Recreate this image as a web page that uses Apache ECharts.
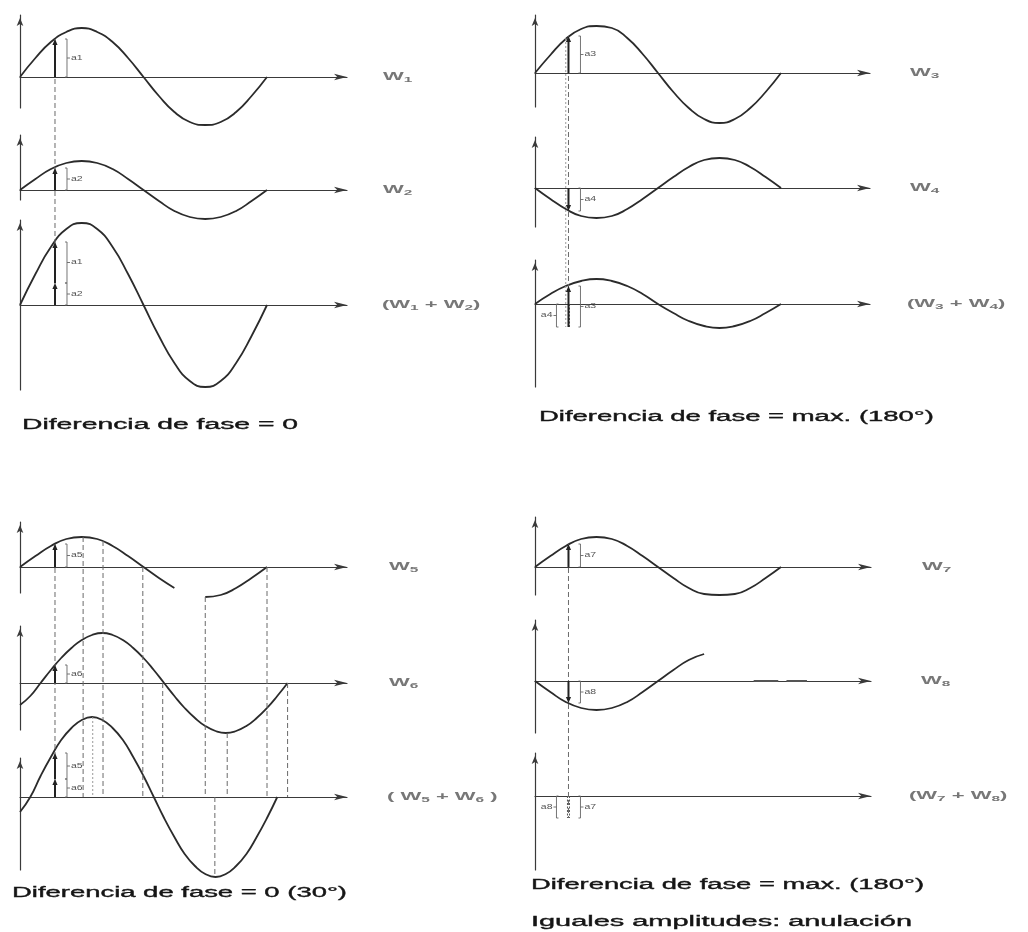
<!DOCTYPE html>
<html><head><meta charset="utf-8">
<script src="https://cdn.jsdelivr.net/npm/echarts@6/dist/echarts.min.js"></script>
<style>html,body{margin:0;padding:0;background:#fff}#c{width:1028px;height:932px}</style>
</head><body><div id="c"></div>
<script>
// ---------- DATA (phase angle in degrees, amplitude values) ----------
const thetaQ = [0,22.5,45,67.5,90,112.5,135,157.5,180,202.5,225,247.5,270,292.5,315,337.5,360];
const w1  = [0,19,35,45,49,45,35,19,0,-19,-35,-45,-48,-45,-35,-19,0];
const w2  = [0,11,21,27,29,27,21,11,0,-11,-21,-27,-29,-27,-21,-11,0];
const w12 = [0,31,58,76,82,76,58,31,0,-31,-58,-76,-82,-76,-58,-31,0];
const w3  = [0,18,34,44,47,45,35,19,0,-19,-35,-46,-50,-46,-35,-19,0];
const w4  = [0,-11,-21,-28,-30,-28,-21,-11,0,11,21,28,30,28,21,11,0];
const w34 = [0,10,18,23,25,23,18,10,0,-9,-17,-22,-24,-22,-17,-9,0];
const thetaW5a = [0,22.5,45,67.5,90,112.5,135,157.5,180,202.5,225];
const w5a = [0,11,21,28,30,28,21,11,0,-11,-21];
const thetaW5b = [270,292.5,315,337.5,360];
const w5b = [-30,-28,-21,-11,0];
const thetaW6 = [0,15,30,45,60,75,90,105,120,135,150,165,180,195,210,225,240,255,270,285,300,315,330,345,360,375,390];
const w6  = [-22,-13,0,13,25,35,43,48,50,48,43,35,25,13,0,-13,-25,-35,-43,-48,-50,-48,-43,-35,-25,-13,0];
const thetaW56 = [0,15,30,45,60,75,90,105,120,135,150,165,180,195,210,225,240,255,270,285,300,315,330,345,360,375];
const w56 = [-15,0,21,40,57,69,77,80,77,69,57,40,21,0,-21,-40,-57,-69,-77,-80,-77,-69,-57,-40,-21,0];
const w7  = [0,11,21,28,30,28,21,11,0,-11,-21,-27,-28,-27,-21,-11,0];
const thetaW8 = [0,22.5,45,67.5,90,112.5,135,157.5,180,202.5,225,247.5];
const w8  = [0,-11,-21,-27,-29,-27,-21,-11,0,11,21,27];
const thetaW8res = [320,356,null,368,398];
const w8res = [0,0,null,0,0];

const waveLabels = [
  ['W{s|1}','W{s|2}','(W{s|1} + W{s|2})'],
  ['W{s|3}','W{s|4}','(W{s|3} + W{s|4})'],
  ['W{s|5}','W{s|6}','( W{s|5} + W{s|6} )'],
  ['W{s|7}','W{s|8}','(W{s|7} + W{s|8})']
];
const captions = [
  'Diferencia de fase = 0',
  'Diferencia de fase = max. (180°)',
  'Diferencia de fase = 0 (30°)',
  'Diferencia de fase = max. (180°)',
  'Iguales amplitudes: anulación'
];

// dashed guide lines: panel, angle, from (row,value) to (row,value)
const guides = [
  {p:0,t:51,r1:0,v1:38,r2:2,v2:0},
  {p:1,t:45,r1:0,v1:35,r2:2,v2:-23,dot:true},
  {p:1,t:49,r1:0,v1:37,r2:2,v2:-23},
  {p:2,t:51,r1:0,v1:23,r2:2,v2:0},
  {p:2,t:92,r1:0,v1:30,r2:2,v2:0},
  {p:2,t:106,r1:2,v1:80,r2:2,v2:0,dot:true},
  {p:2,t:121,r1:0,v1:26,r2:2,v2:0},
  {p:2,t:179,r1:0,v1:0,r2:2,v2:0},
  {p:2,t:208,r1:1,v1:0,r2:2,v2:0},
  {p:2,t:270,r1:0,v1:-30,r2:2,v2:0},
  {p:2,t:284,r1:2,v1:0,r2:2,v2:-80},
  {p:2,t:302,r1:1,v1:-50,r2:2,v2:0},
  {p:2,t:360,r1:0,v1:0,r2:2,v2:0},
  {p:2,t:390,r1:1,v1:0,r2:2,v2:0},
  {p:3,t:49,r1:0,v1:23,r2:2,v2:-22}
];
// amplitude arrows / brackets
const annotations = [
  {p:0,t:51,rows:[[{f:0,to:38,l:'a1'}],[{f:0,to:22,l:'a2'}],[{f:0,to:22,l:'a2'},{f:22,to:63,l:'a1'}]]},
  {p:1,t:49,rows:[[{f:0,to:37,l:'a3'}],[{f:0,to:-23,l:'a4'}],[{f:0,to:-23,l:'a4',side:-1,arrow:false},{f:-23,to:18,l:'a3'}]]},
  {p:2,t:51,rows:[[{f:0,to:23,l:'a5'}],[{f:0,to:18,l:'a6'}],[{f:0,to:18,l:'a6'},{f:18,to:44,l:'a5'}]]},
  {p:3,t:49,rows:[[{f:0,to:23,l:'a7'}],[{f:0,to:-22,l:'a8'}],[{f:0,to:-22,l:'a8',side:-1,arrow:false},{f:0,to:-22,l:'a7',arrow:false}]]}
];

// ---------- LAYOUT ----------
const layout = [
  {ax:20,  tip:353, end:267, lx:[383,383,382], rows:[[15,77,108],[135,190,200],[220,305,390]]},
  {ax:535, tip:876, end:781, lx:[910,910,907], rows:[[15,73,107],[137,188,227],[260,304,387]]},
  {ax:20,  tip:353, end:267, lx:[389,389,387], rows:[[522,567,593],[626,683,730],[758,797,870]]},
  {ax:535, tip:877, end:781, lx:[922,921,909], rows:[[517,567,595],[620,681,733],[753,796,870]]}
];
const captionPos = [[22,425,276],[539,417,395],[12,893,335],[531,885,393],[531,922,381]];

const zip = (t,v) => t.map((x,i)=> x===null ? [null,null] : [x, v[i]]);
const curves = [
  [zip(thetaQ,w1)], [zip(thetaQ,w2)], [zip(thetaQ,w12)],
  [zip(thetaQ,w3)], [zip(thetaQ,w4)], [zip(thetaQ,w34)],
  [zip(thetaW5a,w5a), zip(thetaW5b,w5b)], [zip(thetaW6,w6)], [zip(thetaW56,w56)],
  [zip(thetaQ,w7)], [zip(thetaW8,w8)], []
];

const INK = '#2b2b2b';
const grid=[], xAxis=[], yAxis=[], series=[];
layout.forEach((P,p)=>{
  const pxPerDeg = (P.end-P.ax)/360;
  const width = P.tip - P.ax - 6;
  P.rows.forEach((R,r)=>{
    const g = p*3+r;
    grid.push({left:P.ax, top:R[0], width:width, height:R[2]-R[0], outerBoundsMode:'none', containLabel:false});
    xAxis.push({gridIndex:g, type:'value', min:0, max:width/pxPerDeg,
      axisLine:{show:true,onZero:true,symbol:['none','arrow'],symbolSize:[5,13],lineStyle:{color:'#3a3a3a',width:1.2}},
      axisTick:{show:false}, axisLabel:{show:false}, splitLine:{show:false}});
    yAxis.push({gridIndex:g, type:'value', min:-(R[2]-R[1]), max:(R[1]-R[0]),
      axisLine:{show:true,onZero:true,symbol:['none','arrow'],symbolSize:[5,8],symbolOffset:[0,-3],lineStyle:{color:'#3a3a3a',width:1.2}},
      axisTick:{show:false}, axisLabel:{show:false}, splitLine:{show:false}});
    curves[g].forEach(d=>{
      series.push({type:'line', xAxisIndex:g, yAxisIndex:g, data:d, smooth:true, symbol:'none',
        clip:false, silent:true, connectNulls:false, lineStyle:{color:INK,width:1.8}});
    });
  });
});
// residual faint dash on W8 baseline
series.push({type:'line', xAxisIndex:10, yAxisIndex:10, data:zip(thetaW8res,w8res), symbol:'none',
  clip:false, silent:true, connectNulls:false, lineStyle:{color:'#555',width:1.8}});

const chart = echarts.init(document.getElementById('c'), null, {renderer:'canvas'});
chart.setOption({animation:false, backgroundColor:'#fff', grid, xAxis, yAxis, series});

// ---------- annotations through the axes' scales ----------
const px = (g,t,v) => chart.convertToPixel({gridIndex:g}, [t,v]);
const els = [];
const cv = document.createElement('canvas').getContext('2d');
const FONT = '"Liberation Sans", Arial, sans-serif';

guides.forEach(G=>{
  const a = px(G.p*3+G.r1, G.t, G.v1), b = px(G.p*3+G.r2, G.t, G.v2);
  els.push({type:'line', z:5, silent:true, shape:{x1:a[0],y1:a[1],x2:b[0],y2:b[1]},
    style:{stroke: G.dot ? '#9a9a9a' : '#6a6a6a', lineWidth: 1, lineDash: G.dot ? [2,2] : [5,3]}});
});

annotations.forEach(A=>{
  A.rows.forEach((segs,r)=>{
    const g = A.p*3+r;
    segs.forEach(S=>{
      const p1 = px(g,A.t,S.f), p2 = px(g,A.t,S.to);
      const x = p1[0], y1 = p1[1], y2 = p2[1];
      const side = S.side || 1;
      if (S.arrow === false) {
        els.push({type:'line', z:6, silent:true, shape:{x1:x-side*1,y1:y1,x2:x-side*1,y2:y2}, style:{stroke:'#555',lineWidth:1,lineDash:[2,1.5]}});
      } else {
        const dir = y2 < y1 ? 1 : -1;
        els.push({type:'line', z:6, silent:true, shape:{x1:x,y1:y1,x2:x,y2:y2+dir*3}, style:{stroke:'#222',lineWidth:2}});
        els.push({type:'polygon', z:6, silent:true, shape:{points:[[x-2.6,y2+dir*6],[x+2.6,y2+dir*6],[x,y2]]}, style:{fill:'#222'}});
      }
      const bx = x + side*12;
      els.push({type:'polyline', z:6, silent:true,
        shape:{points:[[bx-side*2,y1],[bx,y1],[bx,y2],[bx-side*2,y2]]}, style:{stroke:'#666',lineWidth:0.9,fill:null}});
      const ym = (y1+y2)/2;
      els.push({type:'line', z:6, silent:true, shape:{x1:bx,y1:ym,x2:bx+side*3,y2:ym}, style:{stroke:'#666',lineWidth:0.9}});
      els.push({type:'text', z:7, silent:true, x: bx+side*4, y: ym, scaleX:1.5,
        style:{text:S.l, fontSize:7, fontFamily:FONT, fill:'#555', align: side>0?'left':'right', verticalAlign:'middle'}});
    });
  });
});

layout.forEach((P,p)=>{
  P.rows.forEach((R,r)=>{
    const g = p*3+r;
    const base = px(g,0,0)[1];
    els.push({type:'text', z:7, silent:true, x:P.lx[r], y:base, scaleX:2.2,
      style:{text:waveLabels[p][r], fontSize:10, fontWeight:'bold', lineHeight:13, fontFamily:FONT, fill:'#777', align:'left', verticalAlign:'middle',
        rich:{s:{fontSize:7, fontWeight:'bold', lineHeight:13, verticalAlign:'bottom', fill:'#777', fontFamily:FONT}}}});
  });
});

captions.forEach((txt,i)=>{
  const [x,y,w] = captionPos[i];
  cv.font = '14px ' + FONT;
  const m = cv.measureText(txt).width;
  els.push({type:'text', z:7, silent:true, x:x, y:y, scaleX: w/m,
    style:{text:txt, fontSize:14, fontFamily:FONT, fill:'#151515', stroke:'#151515', lineWidth:0.35, align:'left', verticalAlign:'middle'}});
});

chart.setOption({graphic:{elements:els}});
</script>
</body></html>
